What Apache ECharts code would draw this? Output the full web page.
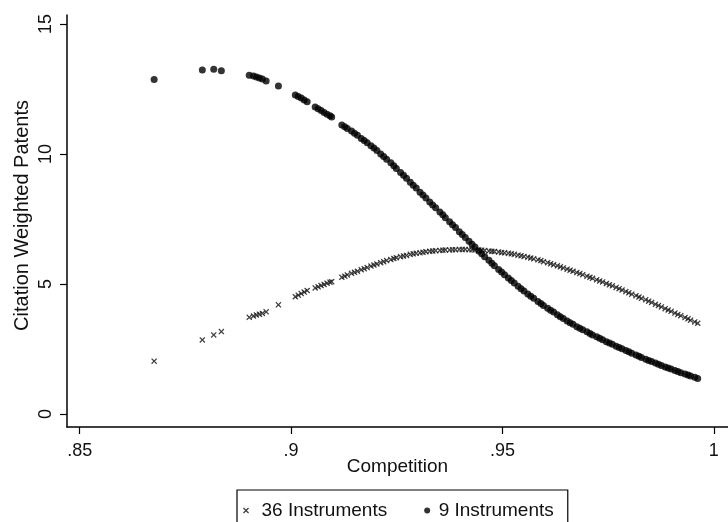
<!DOCTYPE html>
<html>
<head>
<meta charset="utf-8">
<script src="https://cdn.jsdelivr.net/npm/echarts@6/dist/echarts.min.js"></script>
<style>
  html, body { margin: 0; padding: 0; background: #fff; }
  #chart { width: 728px; height: 522px; }
</style>
</head>
<body>
<div id="chart"></div>
<script>
// Competition index for each observation (shared by both fitted series)
const competition = [
  0.8676, 0.8790, 0.8817, 0.8835, 0.8901, 0.8911, 0.8918, 0.8925, 0.8932, 0.8941, 0.8970,
  0.9010, 0.9017, 0.9024, 0.9031, 0.9038, 0.9057, 0.9064, 0.9071, 0.9078, 0.9085, 0.9092, 0.9096,
  0.9120, 0.9127, 0.9133, 0.9143, 0.9150, 0.9157, 0.9166, 0.9173, 0.9180, 0.9189, 0.9196, 0.9203, 0.9212,
  0.9219, 0.9226, 0.9236, 0.9243, 0.9249, 0.9259, 0.9266, 0.9273, 0.9282, 0.9289, 0.9296, 0.9305,
  0.9312, 0.9319, 0.9328, 0.9335, 0.9342, 0.9352, 0.9359, 0.9365, 0.9375, 0.9382, 0.9389, 0.9398,
  0.9405, 0.9412, 0.9421, 0.9428, 0.9435, 0.9444, 0.9451, 0.9458, 0.9468, 0.9475, 0.9481, 0.9491,
  0.9498, 0.9505, 0.9514, 0.9521, 0.9528, 0.9537, 0.9544, 0.9551, 0.9560, 0.9567, 0.9574, 0.9584,
  0.9591, 0.9597, 0.9607, 0.9614, 0.9621, 0.9630, 0.9637, 0.9644, 0.9653, 0.9660, 0.9667, 0.9676,
  0.9683, 0.9690, 0.9700, 0.9707, 0.9713, 0.9723, 0.9730, 0.9737, 0.9746, 0.9753, 0.9760, 0.9769,
  0.9776, 0.9783, 0.9792, 0.9799, 0.9806, 0.9816, 0.9823, 0.9829, 0.9839, 0.9846, 0.9853, 0.9862,
  0.9869, 0.9876, 0.9885, 0.9892, 0.9899, 0.9908, 0.9915, 0.9922, 0.9932, 0.9939, 0.9945, 0.9955,
  0.9962
];

// Fitted citation weighted patents, 36 instruments
const inst36 = [
  2.03, 2.85, 3.04, 3.17, 3.72, 3.77, 3.81, 3.84, 3.87, 3.93, 4.20,
  4.51, 4.57, 4.63, 4.69, 4.75, 4.85, 4.89, 4.94, 4.98, 5.03, 5.07, 5.09,
  5.26, 5.30, 5.35, 5.41, 5.45, 5.49, 5.55, 5.59, 5.63, 5.69, 5.73, 5.77, 5.82,
  5.86, 5.90, 5.94, 5.98, 6.01, 6.05, 6.08, 6.10, 6.14, 6.16, 6.18, 6.20,
  6.22, 6.24, 6.26, 6.27, 6.28, 6.29, 6.30, 6.31, 6.31, 6.32, 6.32, 6.33,
  6.33, 6.33, 6.32, 6.32, 6.31, 6.31, 6.30, 6.29, 6.27, 6.26, 6.25, 6.23,
  6.21, 6.20, 6.18, 6.16, 6.14, 6.11, 6.09, 6.06, 6.03, 6.00, 5.97, 5.93,
  5.90, 5.86, 5.82, 5.78, 5.74, 5.70, 5.66, 5.62, 5.57, 5.53, 5.49, 5.44,
  5.40, 5.36, 5.30, 5.26, 5.22, 5.16, 5.12, 5.08, 5.02, 4.97, 4.93, 4.87,
  4.82, 4.77, 4.71, 4.66, 4.61, 4.55, 4.50, 4.45, 4.39, 4.34, 4.29, 4.22,
  4.17, 4.12, 4.05, 4.00, 3.95, 3.88, 3.83, 3.78, 3.71, 3.66, 3.61, 3.54,
  3.49
];

// Fitted citation weighted patents, 9 instruments
const inst9 = [
  12.87, 13.23, 13.26, 13.20, 13.03, 13.00, 12.96, 12.92, 12.88, 12.81, 12.62,
  12.27, 12.21, 12.15, 12.08, 12.01, 11.81, 11.74, 11.67, 11.60, 11.53, 11.47, 11.42,
  11.12, 11.05, 10.98, 10.88, 10.80, 10.72, 10.60, 10.52, 10.43, 10.32, 10.23, 10.13, 10.00,
  9.90, 9.80, 9.66, 9.55, 9.44, 9.29, 9.18, 9.07, 8.91, 8.80, 8.69, 8.53,
  8.42, 8.31, 8.15, 8.04, 7.93, 7.77, 7.66, 7.55, 7.39, 7.28, 7.17, 7.01,
  6.90, 6.79, 6.64, 6.53, 6.42, 6.27, 6.16, 6.05, 5.91, 5.80, 5.70, 5.56,
  5.46, 5.36, 5.23, 5.13, 5.04, 4.91, 4.82, 4.73, 4.62, 4.53, 4.45, 4.33,
  4.25, 4.17, 4.07, 3.99, 3.92, 3.82, 3.74, 3.67, 3.58, 3.51, 3.45, 3.36,
  3.30, 3.24, 3.16, 3.10, 3.04, 2.97, 2.91, 2.86, 2.78, 2.73, 2.68, 2.61,
  2.56, 2.51, 2.44, 2.39, 2.34, 2.27, 2.22, 2.17, 2.11, 2.06, 2.02, 1.96,
  1.91, 1.87, 1.81, 1.77, 1.73, 1.67, 1.63, 1.59, 1.54, 1.50, 1.46, 1.41,
  1.37
];

// Axis ticks
const xTicks = [0.85, 0.9, 0.95, 1];
const yTicks = [0, 5, 10, 15];

const seriesNames = ['36 Instruments', '9 Instruments'];
const FONT = '"Liberation Sans", Arial, sans-serif';
// small "x" marker drawn as a filled outline
const CROSS = 'path://M0,1.5L1.5,0L5,3.5L8.5,0L10,1.5L6.5,5L10,8.5L8.5,10L5,6.5L1.5,10L0,8.5L3.5,5Z';

const pairs = ys => competition.map((x, i) => [x, ys[i]]);

const chart = echarts.init(document.getElementById('chart'), null, { renderer: 'canvas' });

const axisText = { color: '#111', fontFamily: FONT, fontSize: 18 };

chart.setOption({
  animation: false,
  backgroundColor: '#fff',
  grid: { left: 67, top: 15, right: -13, bottom: 95, containLabel: false },
  xAxis: {
    type: 'value',
    min: 0.846984,
    max: 1.003365,
    name: 'Competition',
    nameLocation: 'middle',
    nameGap: 30,
    nameMoveOverlap: false,
    nameTextStyle: { color: '#111', fontFamily: FONT, fontSize: 19 },
    axisLine: { show: true, onZero: false, lineStyle: { color: '#000', width: 1.5 } },
    axisTick: { show: true, length: 7, customValues: xTicks, lineStyle: { color: '#000', width: 1.2 } },
    axisLabel: Object.assign({
      margin: 15,
      customValues: xTicks,
      formatter: v => (v >= 1 ? String(v) : String(v).replace(/^0/, ''))
    }, axisText),
    splitLine: { show: false }
  },
  yAxis: {
    type: 'value',
    min: -0.5,
    max: 15.34615,
    name: 'Citation Weighted Patents',
    nameLocation: 'middle',
    nameGap: 35,
    nameMoveOverlap: false,
    nameTextStyle: { color: '#111', fontFamily: FONT, fontSize: 20, padding: [0, 0, 0, 11] },
    axisLine: { show: true, onZero: false, lineStyle: { color: '#000', width: 1.5 } },
    axisTick: { show: true, length: 7, customValues: yTicks, lineStyle: { color: '#000', width: 1.2 } },
    axisLabel: Object.assign({ margin: 12, rotate: 90, customValues: yTicks }, axisText),
    splitLine: { show: false }
  },
  legend: {
    left: 237,
    top: 490,
    orient: 'horizontal',
    padding: [11, 14, 30, 6],
    borderColor: '#000',
    borderWidth: 1.2,
    itemWidth: 13,
    itemHeight: 6,
    itemGap: 37,
    textStyle: { color: '#111', fontFamily: FONT, fontSize: 19 },
    data: [
      { name: seriesNames[0], icon: CROSS, itemStyle: { color: '#111' }, textStyle: { padding: [0, 0, 0, 4] } },
      { name: seriesNames[1], icon: 'circle', itemStyle: { color: '#000' } }
    ]
  },
  series: [
    {
      name: seriesNames[0],
      type: 'scatter',
      symbol: CROSS,
      symbolSize: 6,
      itemStyle: { color: '#111' },
      data: pairs(inst36),
      z: 2
    },
    {
      name: seriesNames[1],
      type: 'scatter',
      symbol: 'circle',
      symbolSize: 7,
      itemStyle: { color: '#000' },
      data: pairs(inst9),
      z: 3
    }
  ]
});
</script>
</body>
</html>
